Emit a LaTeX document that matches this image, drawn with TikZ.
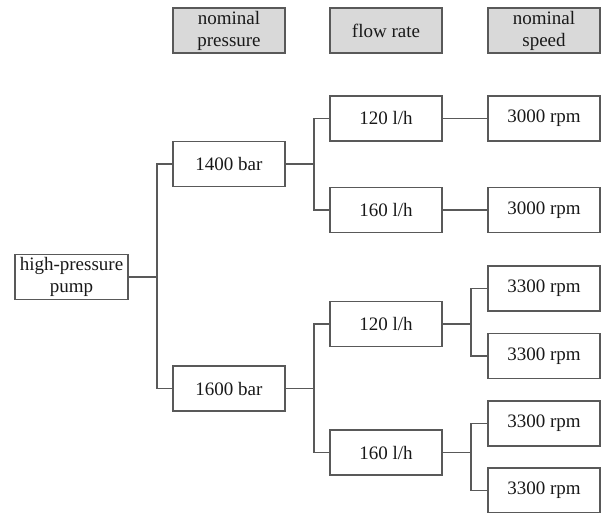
\documentclass[tikz,border=0pt]{standalone}
\usepackage{fontspec}
\setmainfont{Liberation Serif}
\begin{document}
\begin{tikzpicture}[x=1pt,y=-1pt,
  box/.style={draw=black!65,line width=1.2pt,fill=white,minimum width=112pt,minimum height=45pt,inner sep=0pt,align=center,font=\fontsize{19}{22}\selectfont,text=black!90},
  hdr/.style={box,fill=black!15},
  conn/.style={draw=black!65,line width=1.2pt}]
\useasboundingbox (0,0) rectangle (602,513);
\node[hdr] (h1) at (229,30.5) {nominal\\pressure};
\node[hdr] (h2) at (386,30.5) {flow rate};
\node[hdr] (h3) at (544,30.5) {nominal\\speed};
\node[box,minimum width=113pt] (pump) at (71.5,277) {high-pressure\\pump};
\node[box] (p1) at (229,164) {1400 bar};
\node[box] (p2) at (229,388.5) {1600 bar};
\node[box] (f1) at (386,118.5) {120 l/h};
\node[box] (f2) at (386,210) {160 l/h};
\node[box] (f3) at (386,324) {120 l/h};
\node[box] (f4) at (386,452.5) {160 l/h};
\node[box] (s1) at (544,118.5) {3000 rpm};
\node[box] (s2) at (544,210) {3000 rpm};
\node[box] (s3) at (544,288.5) {3300 rpm};
\node[box] (s4) at (544,356) {3300 rpm};
\node[box] (s5) at (544,423.5) {3300 rpm};
\node[box] (s6) at (544,490.5) {3300 rpm};
\coordinate (j1) at (157,277);
\coordinate (j2) at (314,164);
\coordinate (j3) at (314,388.5);
\coordinate (j4) at (471,324);
\coordinate (j5) at (471,452.5);
\draw[conn] (pump) -- (j1);
\draw[conn] (p1.west) -| (j1);
\draw[conn] (p2.west) -| (j1);
\draw[conn] (p1) -- (j2);
\draw[conn] (f1.west) -| (j2);
\draw[conn] (f2.west) -| (j2);
\draw[conn] (p2) -- (j3);
\draw[conn] (f3.west) -| (j3);
\draw[conn] (f4.west) -| (j3);
\draw[conn] (f1) -- (s1);
\draw[conn] (f2) -- (s2);
\draw[conn] (f3) -- (j4);
\draw[conn] (s3.west) -| (j4);
\draw[conn] (s4.west) -| (j4);
\draw[conn] (f4) -- (j5);
\draw[conn] (s5.west) -| (j5);
\draw[conn] (s6.west) -| (j5);
\end{tikzpicture}
\end{document}
